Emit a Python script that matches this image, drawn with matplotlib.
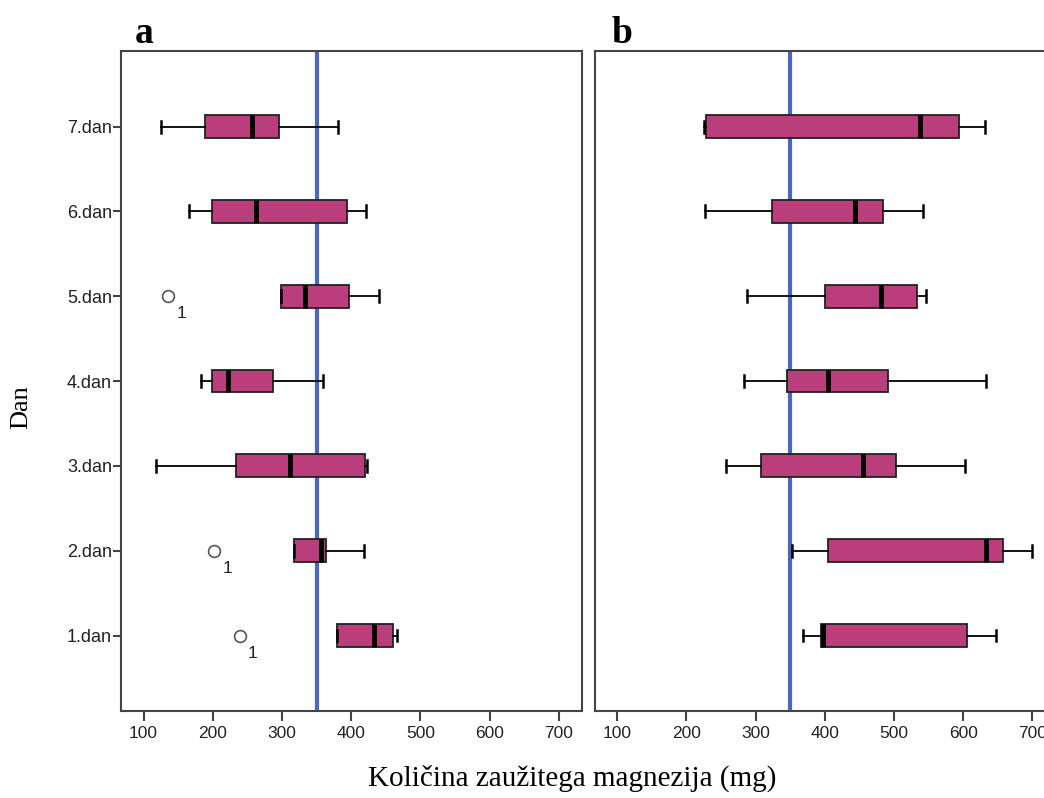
import numpy as np
import matplotlib.pyplot as plt

days = ['1.dan', '2.dan', '3.dan', '4.dan', '5.dan', '6.dan', '7.dan']

# panel a (values in mg)
a_whislo = [380, 317, 118, 183, 298, 166, 125]
a_q1 = [380, 317, 233, 199, 298, 199, 189]
a_med = [433, 357, 312, 222, 334, 262, 257]
a_q3 = [460, 363, 420, 287, 397, 394, 295]
a_whishi = [466, 419, 423, 359, 440, 422, 381]
a_fliers = [[239], [202], [], [], [136], [], []]

# panel b
b_whislo = [368, 352, 257, 283, 288, 227, 225]
b_q1 = [394, 405, 308, 345, 401, 324, 228]
b_med = [398, 633, 456, 405, 481, 444, 538]
b_q3 = [605, 658, 503, 491, 534, 484, 594]
b_whishi = [647, 700, 602, 633, 547, 542, 631]
b_fliers = [[], [], [], [], [], [], []]

limit = 350
box_color = '#BA3E7B'
line_color = '#4A67C3'
spine_color = '#444444'

plt.rcParams['font.family'] = ['Liberation Sans', 'DejaVu Sans']

fig = plt.figure(figsize=(10.44, 7.98), dpi=100)
ax1 = fig.add_axes([0.1159, 0.109, 0.4412, 0.827])
ax2 = fig.add_axes([0.5695, 0.109, 0.4412, 0.827])


def make_stats(whislo, q1, med, q3, whishi, fliers):
    stats = []
    for i in range(len(days)):
        stats.append(dict(whislo=whislo[i], q1=q1[i], med=med[i], q3=q3[i],
                          whishi=whishi[i], fliers=fliers[i], label=days[i]))
    return stats


panels = [
    (ax1, make_stats(a_whislo, a_q1, a_med, a_q3, a_whishi, a_fliers), 'a', 0.129),
    (ax2, make_stats(b_whislo, b_q1, b_med, b_q3, b_whishi, b_fliers), 'b', 0.586),
]

for ax, stats, letter, lx in panels:
    pos = np.arange(1, len(days) + 1)
    ax.axvline(limit, color=line_color, lw=3, zorder=1)
    ax.bxp(stats, positions=pos, orientation='horizontal', widths=0.27,
           patch_artist=True, showfliers=True, capwidths=0.14,
           boxprops=dict(facecolor=box_color, edgecolor='#222222', lw=1.3),
           medianprops=dict(color='black', lw=3.5, solid_capstyle='butt'),
           whiskerprops=dict(color='black', lw=1.3),
           capprops=dict(color='black', lw=1.8),
           flierprops=dict(marker='o', markersize=8.5, markerfacecolor='none',
                           markeredgecolor='#555555', markeredgewidth=1.2),
           zorder=3)
    # label the outliers with the case number
    for p, st in zip(pos, stats):
        for fx in st['fliers']:
            ax.annotate('1', (fx, p), xytext=(6, -16), textcoords='offset points',
                        fontsize=12.5, color='#222222')

    ax.set_xlim(67.4, 733)
    ax.set_ylim(0.11, 7.89)
    ax.set_xticks([100, 200, 300, 400, 500, 600, 700])
    ax.tick_params(axis='x', length=7.5, width=1.5, color=spine_color,
                   labelsize=12.5, labelcolor='#222222', pad=3)
    for s in ax.spines.values():
        s.set_color(spine_color)
        s.set_linewidth(1.5)
    fig.text(lx, 0.958, letter, fontsize=27, fontweight='bold',
             family='Liberation Serif', ha='left', va='center')

ax1.set_yticks(np.arange(1, len(days) + 1))
ax1.set_yticklabels(days)
ax1.tick_params(axis='y', length=5.5, width=1.5, color=spine_color,
                labelsize=13, labelcolor='#222222', pad=1)
ax2.set_yticks([])

fig.text(0.02, 0.49, 'Dan', rotation=90, fontsize=19, family='Liberation Serif',
         ha='center', va='center')
fig.text(0.548, 0.025, 'Količina zaužitega magnezija (mg)', fontsize=21,
         family='Liberation Serif', ha='center', va='center')

fig.savefig('out.png', dpi=100)
